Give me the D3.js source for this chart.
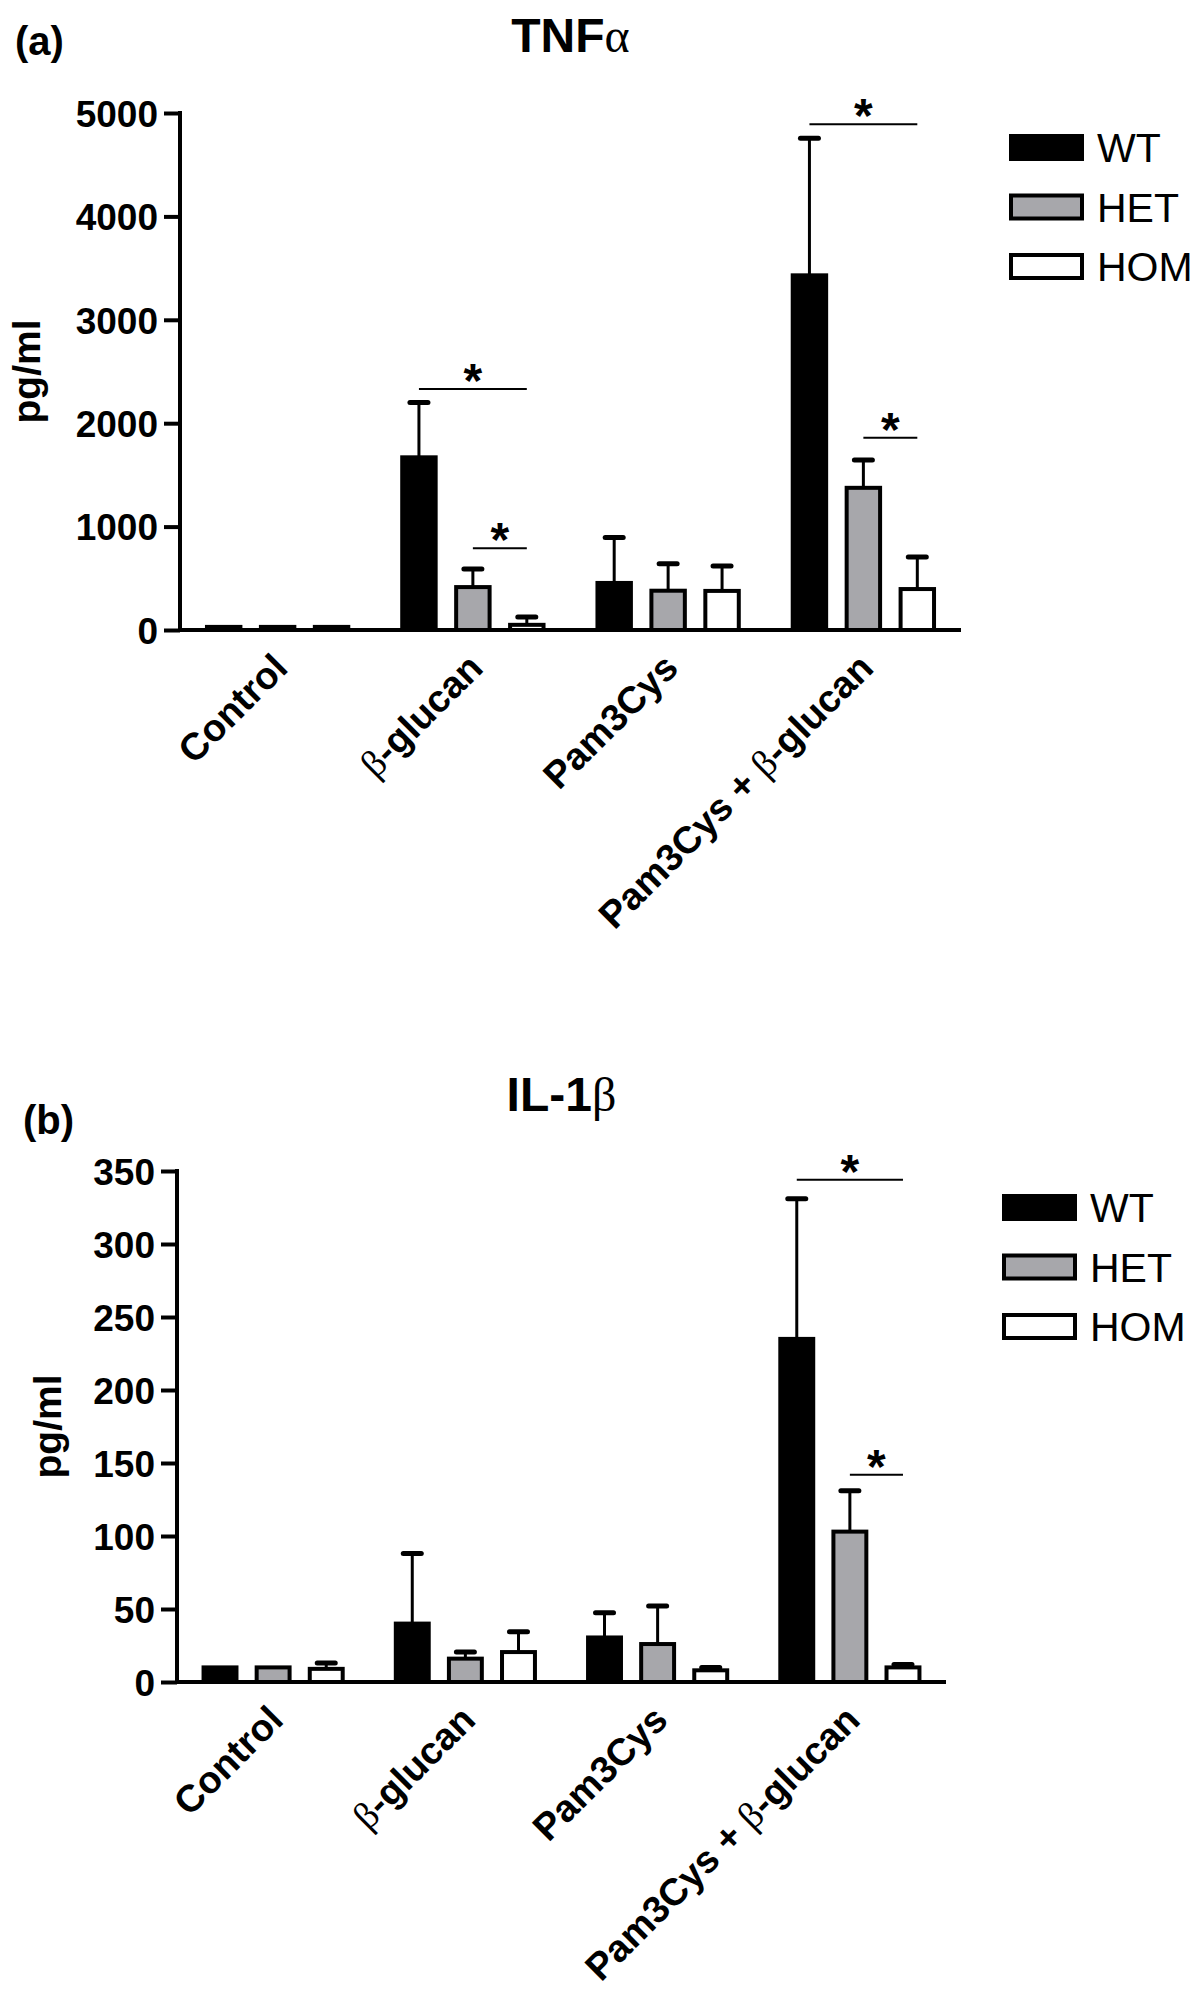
<!DOCTYPE html>
<html>
<head>
<meta charset="utf-8">
<script src="https://cdn.jsdelivr.net/npm/d3@7"></script>
<style>
  body { margin: 0; background: #fff; }
  text { font-family: "Liberation Sans", Arial, sans-serif; fill: #000; }
</style>
</head>
<body>
<svg id="fig" width="1200" height="1994"></svg>
<script>
// ---- data ----
const categories = ["Control", "β-glucan", "Pam3Cys", "Pam3Cys + β-glucan"];
const genotypes = ["WT", "HET", "HOM"];

// TNFa, pg/ml : mean and SEM (upper bar only)
const tnfWT     = [30, 1670, 455, 3430];
const tnfHET    = [30, 415, 380, 1375];
const tnfHOM    = [30, 50, 378, 396];
const tnfWTsem  = [0, 530, 440, 1325];
const tnfHETsem = [0, 175, 260, 270];
const tnfHOMsem = [0, 75, 240, 310];
const tnfTicks  = [0, 1000, 2000, 3000, 4000, 5000];
// significance bars: category index, from genotype, to genotype, height
const tnfSig = [
  {cat: 1, from: "WT",  to: "HOM", y: 2330},
  {cat: 1, from: "HET", to: "HOM", y: 790},
  {cat: 3, from: "WT",  to: "HOM", y: 4890},
  {cat: 3, from: "HET", to: "HOM", y: 1860}
];

// IL-1b, pg/ml
const ilWT     = [10, 40, 30.5, 235];
const ilHET    = [10, 16, 26, 103];
const ilHOM    = [9, 20.5, 8, 10];
const ilWTsem  = [0, 48, 17, 96];
const ilHETsem = [0, 4.5, 26, 28];
const ilHOMsem = [4, 14, 2, 2];
const ilTicks  = [0, 50, 100, 150, 200, 250, 300, 350];
const ilSig = [
  {cat: 3, from: "WT",  to: "HOM", y: 344},
  {cat: 3, from: "HET", to: "HOM", y: 142}
];

const fills = {WT: "#000", HET: "#a7a7ab", HOM: "#fff"};

function rows(means, sems) {
  // means/sems keyed by genotype -> flat list of bars
  var out = [];
  categories.forEach(function(c, i) {
    genotypes.forEach(function(g) {
      out.push({cat: c, geno: g, v: means[g][i], sem: sems[g][i]});
    });
  });
  return out;
}

// writes a label, putting greek letters in a serif face like the original
function greekText(sel, str) {
  sel.text(null);
  str.split(/([αβ])/).forEach(function(part) {
    if (!part) return;
    var t = sel.append("tspan").text(part);
    if (part === "α" || part === "β") {
      t.style("font-family", "'Liberation Serif', 'DejaVu Serif', serif").style("font-weight", "normal");
    }
  });
}

const svg = d3.select("#fig");

function panel(conf, data, sig) {
  var g = svg.append("g");

  var x = d3.scaleBand().domain(categories).range([conf.x0, conf.x1]);
  var xIn = d3.scaleBand().domain(genotypes).range([0, x.bandwidth()])
      .paddingInner(0.38).paddingOuter(0.5);
  var y = d3.scaleLinear().domain([0, conf.max]).range([conf.yBot, conf.yTop]);

  // y axis
  var yAxis = d3.axisLeft(y).tickValues(conf.ticks).tickFormat(d3.format("d"))
      .tickSize(16).tickSizeOuter(0).tickPadding(6);
  var ya = g.append("g").attr("transform", "translate(" + conf.x0 + ",0)").call(yAxis);
  ya.select(".domain").attr("stroke-width", 4).attr("d", "M0," + (conf.yTop - 2) + "V" + (conf.yBot + 2));
  ya.selectAll(".tick line").attr("stroke-width", 4);
  ya.selectAll(".tick text").style("font-size", "37px").style("font-weight", "bold").attr("dy", "0.36em");

  // bars
  var bars = g.append("g");
  bars.selectAll("rect").data(data).join("rect")
      .attr("x", function(d) { return x(d.cat) + xIn(d.geno); })
      .attr("y", function(d) { return y(d.v); })
      .attr("width", xIn.bandwidth())
      .attr("height", function(d) { return y(0) - y(d.v); })
      .attr("fill", function(d) { return fills[d.geno]; })
      .attr("stroke", "#000").attr("stroke-width", 4);

  // error bars (upper only)
  var err = g.append("g").attr("stroke", "#000");
  var withErr = data.filter(function(d) { return d.sem > 0; });
  err.selectAll("line.v").data(withErr).join("line").attr("class", "v")
      .attr("x1", function(d) { return x(d.cat) + xIn(d.geno) + xIn.bandwidth() / 2; })
      .attr("x2", function(d) { return x(d.cat) + xIn(d.geno) + xIn.bandwidth() / 2; })
      .attr("y1", function(d) { return y(d.v); })
      .attr("y2", function(d) { return y(d.v + d.sem); })
      .attr("stroke-width", 3);
  err.selectAll("line.c").data(withErr).join("line").attr("class", "c")
      .attr("x1", function(d) { return x(d.cat) + xIn(d.geno) + xIn.bandwidth() / 2 - 9; })
      .attr("x2", function(d) { return x(d.cat) + xIn(d.geno) + xIn.bandwidth() / 2 + 9; })
      .attr("y1", function(d) { return y(d.v + d.sem); })
      .attr("y2", function(d) { return y(d.v + d.sem); })
      .attr("stroke-width", 5).attr("stroke-linecap", "round");

  // x axis
  var xAxis = d3.axisBottom(x).tickSize(0).tickSizeOuter(0);
  var xa = g.append("g").attr("transform", "translate(0," + conf.yBot + ")").call(xAxis);
  xa.select(".domain").attr("stroke-width", 4).attr("d", "M" + conf.x0 + ",0H" + conf.x1);
  xa.selectAll(".tick text")
      .attr("y", null).attr("dy", null)
      .attr("text-anchor", "end")
      .attr("transform", "translate(12,40) rotate(-45)")
      .style("font-size", "38px").style("font-weight", "bold")
      .each(function(d) { greekText(d3.select(this), d); });

  // significance
  var sg = g.append("g");
  sig.forEach(function(s) {
    var c = categories[s.cat];
    var xa0 = x(c) + xIn(s.from) + xIn.bandwidth() / 2;
    var xa1 = x(c) + xIn(s.to) + xIn.bandwidth() / 2;
    sg.append("line").attr("x1", xa0).attr("x2", xa1)
        .attr("y1", y(s.y)).attr("y2", y(s.y))
        .attr("stroke", "#000").attr("stroke-width", 2);
    sg.append("text").attr("x", (xa0 + xa1) / 2).attr("y", y(s.y) + 8)
        .attr("text-anchor", "middle").style("font-size", "48px").style("font-weight", "bold")
        .text("*");
  });

  // y label
  g.append("text")
      .attr("transform", "translate(" + conf.ylabX + "," + ((conf.yTop + conf.yBot) / 2) + ") rotate(-90)")
      .attr("text-anchor", "middle")
      .style("font-size", "39px").style("font-weight", "bold")
      .text("pg/ml");

  // title and panel letter
  g.append("text").attr("x", (conf.x0 + conf.x1) / 2).attr("y", conf.titleY)
      .attr("text-anchor", "middle").style("font-size", "48px").style("font-weight", "bold")
      .call(greekText, conf.title);
  g.append("text").attr("x", conf.letterX).attr("y", conf.letterY)
      .style("font-size", "40px").style("font-weight", "bold").text(conf.letter);

  // legend
  var lg = g.append("g").attr("transform", "translate(" + conf.legX + "," + conf.legY + ")");
  var li = lg.selectAll("g").data(genotypes).join("g")
      .attr("transform", function(d, i) { return "translate(0," + (i * 59.5) + ")"; });
  li.append("rect").attr("width", 71).attr("height", 23)
      .attr("fill", function(d) { return fills[d]; })
      .attr("stroke", "#000").attr("stroke-width", 4);
  li.append("text").attr("x", 86).attr("y", 26)
      .style("font-size", "41px").text(function(d) { return d; });
}

panel({x0: 180, x1: 961, yTop: 113, yBot: 630, max: 5000, ticks: tnfTicks,
       ylabX: 40, titleY: 52, title: "TNFα", letter: "(a)", letterX: 15, letterY: 55,
       legX: 1011, legY: 136},
      rows({WT: tnfWT, HET: tnfHET, HOM: tnfHOM}, {WT: tnfWTsem, HET: tnfHETsem, HOM: tnfHOMsem}),
      tnfSig);

panel({x0: 177, x1: 946, yTop: 1171, yBot: 1682, max: 350, ticks: ilTicks,
       ylabX: 61, titleY: 1111, title: "IL-1β", letter: "(b)", letterX: 23, letterY: 1134,
       legX: 1004, legY: 1196},
      rows({WT: ilWT, HET: ilHET, HOM: ilHOM}, {WT: ilWTsem, HET: ilHETsem, HOM: ilHOMsem}),
      ilSig);
</script>
</body>
</html>
